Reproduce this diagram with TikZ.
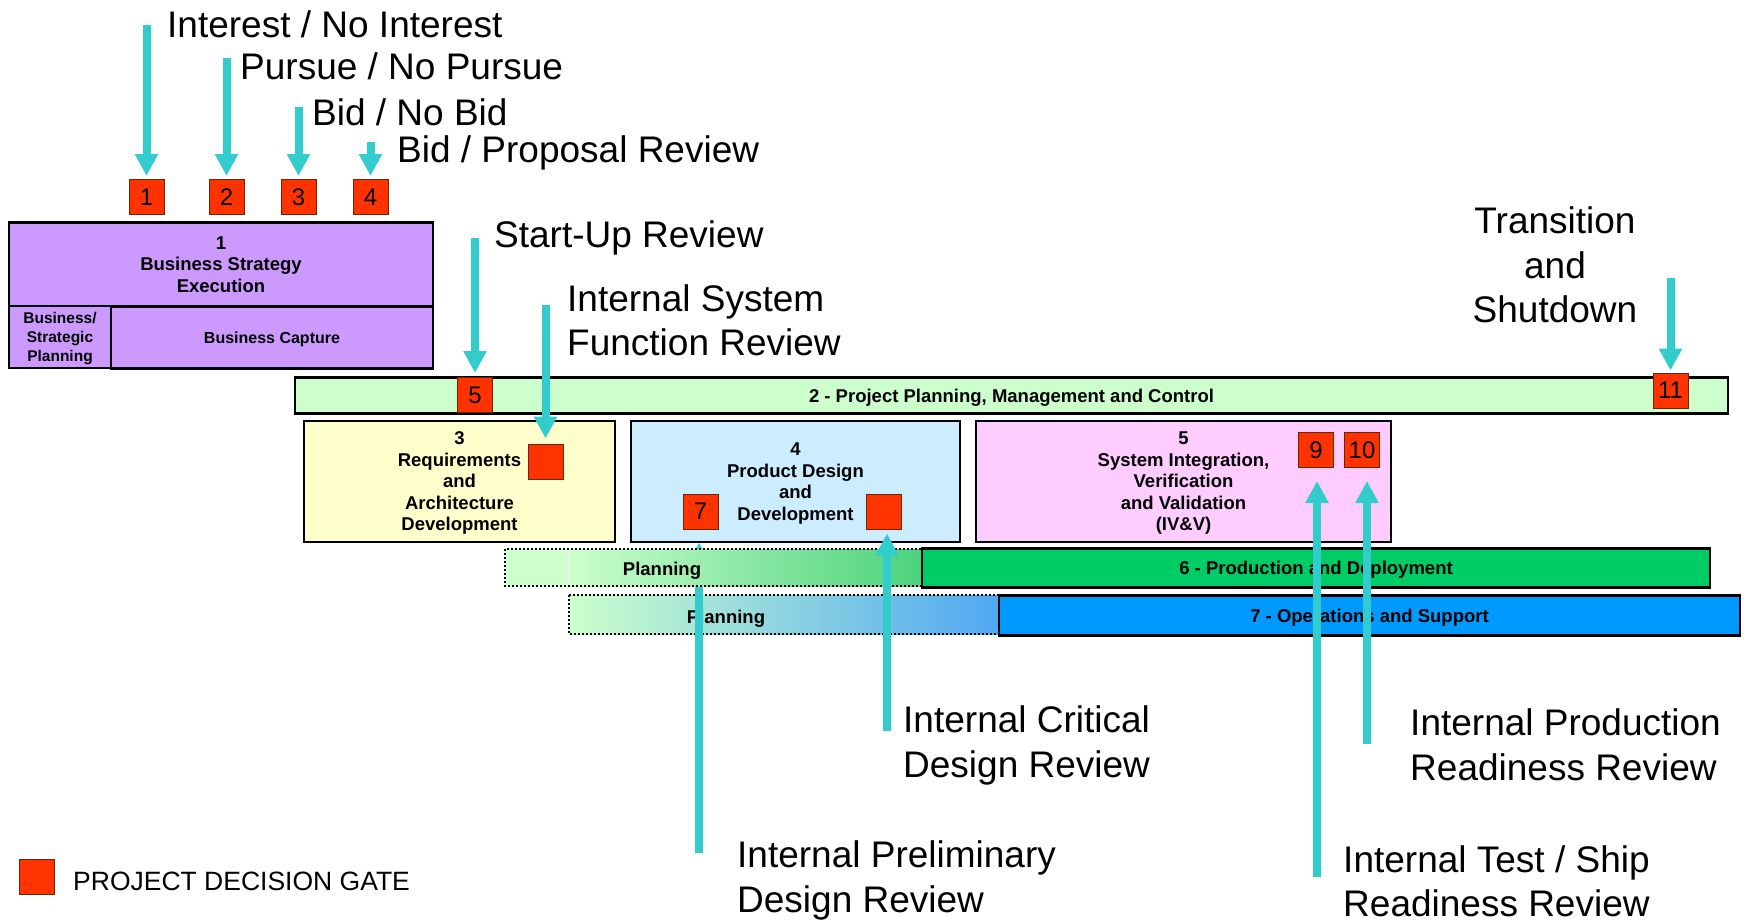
\documentclass[tikz,border=0pt]{standalone}
\usepackage{fontspec}
\setmainfont{Liberation Sans}
\usepackage{xcolor}
\usepackage{tikz}
\usetikzlibrary{positioning,calc,arrows.meta}

\definecolor{gatered}{HTML}{FF3300}
\definecolor{gateedge}{HTML}{6B2600}
\definecolor{revcyan}{HTML}{33CCCC}
\definecolor{bizpurple}{HTML}{CC99FF}
\definecolor{mgmtgreen}{HTML}{CCFFCC}
\definecolor{reqyellow}{HTML}{FFFFCC}
\definecolor{desblue}{HTML}{CCECFF}
\definecolor{ivvpink}{HTML}{FFCCFF}
\definecolor{prodgreen}{HTML}{00CC66}
\definecolor{opsblue}{HTML}{0099FF}
\definecolor{planlt}{HTML}{CCFFCC}
\definecolor{plangreen}{HTML}{4CD27E}
\definecolor{planblue}{HTML}{4FA8F2}

\begin{document}
\begin{tikzpicture}[
    x=1pt, y=-1pt,
    gate/.style={draw=gateedge, line width=1pt, fill=gatered, minimum width=35pt, minimum height=35pt, inner sep=0pt, font=\fontsize{24}{24}\selectfont},
    phase/.style={draw, line width=2.7pt, align=center, inner sep=0pt, text depth=0pt, font=\fontsize{18.5}{21.5}\selectfont\bfseries},
    bartext/.style={inner sep=0pt, text depth=0pt, font=\fontsize{18.5}{21.5}\selectfont\bfseries},
    review/.style={draw=revcyan, line width=8pt, -{Triangle[width=22pt,length=22pt]}},
    note/.style={inner sep=0pt, align=left, font=\fontsize{37}{44.5}\selectfont},
    planedge/.style={draw, line width=2pt, dash pattern=on 2pt off 2pt}
]
    \useasboundingbox (0,0) rectangle (1747,922);

    % business strategy
    \node[phase, fill=bizpurple, minimum width=424pt, minimum height=84pt] (bse) at (221,264.5) {1\\Business Strategy\\Execution};
    \node[phase, fill=bizpurple, minimum width=102pt, minimum height=62pt, font=\fontsize{15.5}{19}\selectfont\bfseries] (bsp) at (60,337) {Business/\\Strategic\\Planning};
    \node[phase, fill=bizpurple, minimum width=322pt, minimum height=62pt, font=\fontsize{16}{19}\selectfont\bfseries] (bcap) at (272,337.5) {Business Capture};

    \node[gate] (g1) at (146.5,197) {1};
    \node[gate] (g2) at (226.5,197) {2};
    \node[gate] (g3) at (298.5,197) {3};
    \node[gate] (g4) at (370.5,197) {4};
    \coordinate (t1) at (146.5,25);
    \coordinate (t2) at (226.5,58);
    \coordinate (t3) at (298.5,107);
    \coordinate (t4) at (370.5,142);
    \draw[review, shorten >=3pt] (t1) -- (g1.north);
    \draw[review, shorten >=3pt] (t2) -- (g2.north);
    \draw[review, shorten >=3pt] (t3) -- (g3.north);
    \draw[review, shorten >=3pt] (t4) -- (g4.north);
    \node[note, anchor=base west] (l1) at (167,37) {Interest / No Interest};
    \node[note, anchor=base west] (l2) at (240,79) {Pursue / No Pursue};
    \node[note, anchor=base west] (l3) at (312,125) {Bid / No Bid};
    \node[note, anchor=base west] (l4) at (397,162) {Bid / Proposal Review};

    % project planning bar
    \node[phase, fill=mgmtgreen, minimum width=1433pt, minimum height=36pt] (pm) at (1011.5,395.5) {2 - Project Planning, Management and Control};
    \node[gate] (g5) at (475,395) {5};
    \node[gate] (g11) at (1670.5,390.5) {11};
    \coordinate (t5) at (475,238);
    \coordinate (t11) at (1670.5,278);
    \draw[review, shorten >=4pt] (t5) -- (g5.north);
    \draw[review, shorten >=2pt] (t11) -- (g11.north);
    \node[note, anchor=base west] (l5) at (494,247) {Start-Up Review};
    \node[note, anchor=north, align=center] (l11) at (1555,206.5) {Transition\\and\\Shutdown};

    % phases 3 to 5
    \node[phase, fill=reqyellow, minimum width=311pt, minimum height=121pt] (req) at (459.5,481.5) {3\\Requirements\\and\\Architecture\\Development};
    \node[phase, fill=desblue, minimum width=329pt, minimum height=121pt] (des) at (795.5,481.5) {4\\Product Design\\and\\Development};
    \node[phase, fill=ivvpink, minimum width=415pt, minimum height=121pt] (ivv) at (1183.5,481.5) {5\\System Integration,\\Verification\\and Validation\\(IV\&V)};
    \node[gate] (g6) at (545.5,461.5) {};
    \node[gate] (g7) at (700.5,511.5) {7};
    \node[gate] (g8) at (883.5,511.5) {};
    \node[gate] (g9) at (1316,450) {9};
    \node[gate] (g10) at (1362,450) {10};
    \coordinate (t6) at (545.5,305);
    \draw[review, shorten >=5pt] (t6) -- (g6.north);
    \node[note, anchor=north west] (l6) at (567,284) {Internal System\\Function Review};

    % operations and support
    \shade[left color=planlt, right color=planblue] (569,595) rectangle (999,634);
    \draw[planedge] (569,595) rectangle (999,634);
    \node[phase, fill=opsblue, minimum width=741pt, minimum height=40pt] (ops) at (1369.5,615.5) {7 - Operations and Support};
    \node[bartext] (pl7) at (726,616.5) {Planning};

    \coordinate (b7) at (699,853);
    \draw[review, shorten >=13pt] (b7) -- (b7 |- g7.south);

    % production and deployment
    \fill[planlt] (505,549) rectangle (568,586);
    \shade[left color=planlt, right color=plangreen] (568,549) rectangle (922,586);
    \draw[white, line width=1pt] (568,550) -- (568,585);
    \draw[planedge] (505,549) rectangle (922,586);
    \node[phase, fill=prodgreen, minimum width=788pt, minimum height=39pt] (prod) at (1316,568) {6 - Production and Deployment};
    \node[bartext] (pl6) at (662,568.5) {Planning};

    \coordinate (b8) at (887,731);
    \coordinate (b9) at (1317,877);
    \coordinate (b10) at (1367,744);
    \draw[review, shorten >=4pt] (b8) -- (b8 |- g8.south);
    \draw[review, shorten >=13pt] (b9) -- (b9 |- g9.south);
    \draw[review, shorten >=13pt] (b10) -- (b10 |- g10.south);
    \node[note, anchor=north west] (l7) at (737,840.5) {Internal Preliminary\\Design Review};
    \node[note, anchor=north west] (l8) at (903,705.5) {Internal Critical\\Design Review};
    \node[note, anchor=north west] (l9) at (1343,845) {Internal Test / Ship\\Readiness Review};
    \node[note, anchor=north west] (l10) at (1410,708.5) {Internal Production\\Readiness Review};

    % legend
    \node[gate] (lg) at (36.5,876.5) {};
    \node[inner sep=0pt, anchor=base west, font=\fontsize{26.5}{26.5}\selectfont] (lgt) at (73,890) {PROJECT DECISION GATE};
\end{tikzpicture}
\end{document}
